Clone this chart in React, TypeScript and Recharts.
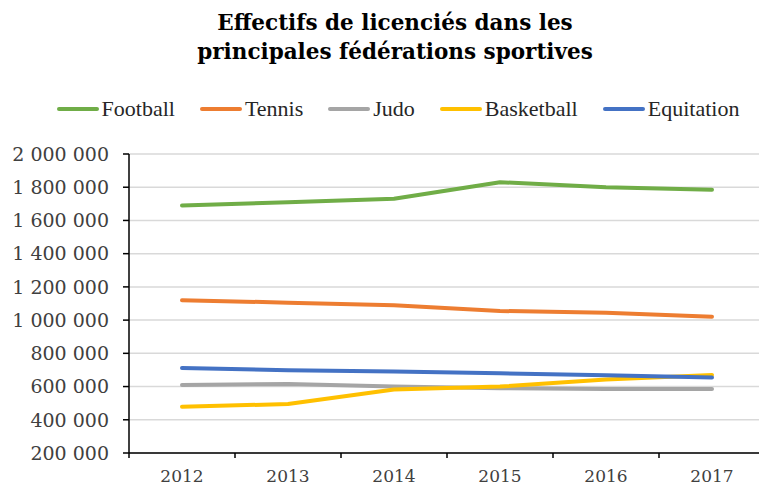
import React from "react"
import { LineChart, Line, XAxis, YAxis, CartesianGrid } from "recharts"

const years = ["2012", "2013", "2014", "2015", "2016", "2017"]
const football = [1690000, 1710000, 1730000, 1830000, 1800000, 1785000]
const tennis = [1120000, 1105000, 1090000, 1055000, 1045000, 1020000]
const judo = [610000, 615000, 600000, 590000, 585000, 585000]
const basketball = [478000, 495000, 582000, 600000, 642000, 670000]
const equitation = [712000, 698000, 690000, 680000, 668000, 655000]
const yTicks = [200000, 400000, 600000, 800000, 1000000, 1200000, 1400000, 1600000, 1800000, 2000000]

const series = [
  { key: "Football", values: football, color: "#70AD47" },
  { key: "Tennis", values: tennis, color: "#ED7D31" },
  { key: "Judo", values: judo, color: "#A5A5A5" },
  { key: "Basketball", values: basketball, color: "#FFC000" },
  { key: "Equitation", values: equitation, color: "#4472C4" },
]

const data = years.map((year, i) => {
  const row: Record<string, string | number> = { year }
  series.forEach((s) => (row[s.key] = s.values[i]))
  return row
})

const W = 770
const H = 485
const Y_AXIS_W = 129
const PLOT_W = W - Y_AXIS_W - 5
const HALF_STEP = PLOT_W / years.length / 2
const X_TICK_SIZE = 5
const X_TICK_MARGIN = 12

const fmt = (v: number) => String(v).replace(/\B(?=(\d{3})+(?!\d))/g, " ")

function XTick(props: any) {
  const { x, y, payload, index } = props
  const axisY = y - X_TICK_MARGIN - X_TICK_SIZE
  return (
    <g>
      <line x1={x - HALF_STEP} x2={x - HALF_STEP} y1={axisY} y2={axisY + X_TICK_SIZE} stroke="#000" strokeWidth={1.5} />
      {index === years.length - 1 && (
        <line x1={x + HALF_STEP} x2={x + HALF_STEP} y1={axisY} y2={axisY + X_TICK_SIZE} stroke="#000" strokeWidth={1.5} />
      )}
      <text x={x} y={y} dy="0.71em" textAnchor="middle" fill="#404040" fontSize={17} fontFamily="'DejaVu Serif', serif">
        {payload.value}
      </text>
    </g>
  )
}

export default function App() {
  return (
    <div style={{ position: "fixed", top: 0, left: 0, width: 759, height: 485, overflow: "hidden", background: "#fff" }}>
      <div
        style={{
          position: "absolute",
          top: 8,
          left: 30,
          width: 730,
          textAlign: "center",
          fontFamily: "'DejaVu Serif', serif",
          fontWeight: "bold",
          fontSize: 21.5,
          lineHeight: "29px",
          color: "#000",
        }}
      >
        Effectifs de licenciés dans les
        <br />
        principales fédérations sportives
      </div>
      <div
        style={{
          position: "absolute",
          top: 96,
          left: 37,
          width: 722,
          display: "flex",
          justifyContent: "center",
          alignItems: "center",
          gap: 25,
          fontFamily: "'Liberation Serif', serif",
          fontSize: 22,
          color: "#262626",
        }}
      >
        {series.map((s) => (
          <div key={s.key} style={{ display: "flex", alignItems: "center" }}>
            <span style={{ display: "inline-block", width: 42, height: 4, borderRadius: 2, background: s.color, marginRight: 3 }} />
            <span>{s.key}</span>
          </div>
        ))}
      </div>
      <LineChart width={W} height={H} data={data} margin={{ top: 154, right: 5, bottom: 0, left: 0 }}>
        <CartesianGrid vertical={false} stroke="#d9d9d9" strokeWidth={1.5} />
        <XAxis
          dataKey="year"
          height={32}
          padding={{ left: HALF_STEP, right: HALF_STEP }}
          axisLine={{ stroke: "#000", strokeWidth: 1.5 }}
          tickLine={false}
          tickSize={X_TICK_SIZE}
          tickMargin={X_TICK_MARGIN}
          tick={<XTick />}
          interval={0}
        />
        <YAxis
          width={Y_AXIS_W}
          domain={[200000, 2000000]}
          ticks={yTicks}
          tickFormatter={fmt}
          axisLine={{ stroke: "#000", strokeWidth: 1.5 }}
          tickLine={{ stroke: "#000", strokeWidth: 1.5 }}
          tickSize={6}
          tickMargin={14}
          tick={{ fill: "#404040", fontSize: 19, fontFamily: "'DejaVu Serif', serif" }}
        />
        {series.map((s) => (
          <Line
            key={s.key}
            dataKey={s.key}
            stroke={s.color}
            strokeWidth={4}
            strokeLinecap="round"
            strokeLinejoin="round"
            dot={false}
            activeDot={false}
            isAnimationActive={false}
          />
        ))}
      </LineChart>
    </div>
  )
}
